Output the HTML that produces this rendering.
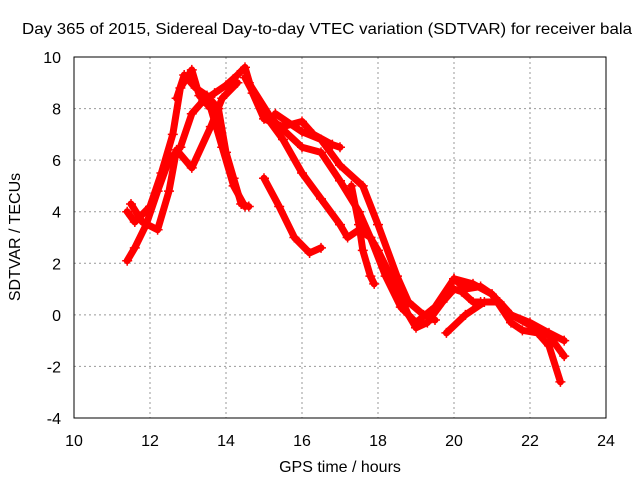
<!DOCTYPE html>
<html><head><meta charset="utf-8"><style>
body{margin:0;background:#fff}
svg text{font-family:"Liberation Sans",sans-serif;font-size:16px;fill:#000}
</style></head><body>
<svg id="chart" width="640" height="480" viewBox="0 0 640 480">
<rect width="640" height="480" fill="#fff"/>
<text x="22" y="34" textLength="610" lengthAdjust="spacingAndGlyphs">Day 365 of 2015, Sidereal Day-to-day VTEC variation (SDTVAR) for receiver bala</text>
<g id="grid"></g>
<g id="series"></g>
<rect x="74" y="57" width="532" height="361" fill="none" stroke="#000" stroke-width="1"/>
<g id="ticks"></g>
<text x="340" y="472" text-anchor="middle">GPS time / hours</text>
<text transform="translate(20,237) rotate(-90)" text-anchor="middle">SDTVAR / TECUs</text>
</svg>
<script>
const xTicks=[10,12,14,16,18,20,22,24];
const yTicks=[-4,-2,0,2,4,6,8,10];
const trackA=[[11.4,4.0],[11.6,3.6],[12.0,4.2],[12.3,5.5],[12.6,7.0],[12.8,8.8],[13.1,9.5],[13.3,8.5],[13.6,8.0],[13.9,6.5],[14.2,5.0],[14.5,4.2]];
const trackB=[[11.4,2.1],[11.6,2.6],[11.9,3.5],[12.2,4.8],[12.5,6.0],[12.8,6.5],[13.1,7.8],[13.4,8.3],[13.7,8.6],[14.0,8.9],[14.3,9.3],[14.5,9.6],[14.7,8.6],[15.0,7.6],[15.5,7.3],[16.0,7.5],[16.3,7.0],[16.8,6.6],[17.0,6.5]];
const trackC=[[11.5,4.3],[11.8,3.6],[12.2,3.3],[12.5,4.8],[12.7,6.4],[13.1,5.7],[13.6,7.3],[13.9,8.4],[14.3,9.0]];
const trackD=[[12.7,8.4],[12.9,9.3],[13.2,8.8],[13.5,8.5],[13.8,8.0],[14.0,6.3],[14.2,5.3],[14.4,4.3],[14.6,4.2]];
const trackE=[[15.0,5.3],[15.4,4.2],[15.8,3.0],[16.2,2.4],[16.5,2.6]];
const trackF=[[14.5,9.2],[15.0,7.8],[15.5,6.8],[16.0,5.5],[16.5,4.5],[17.0,3.5],[17.2,3.0],[17.5,3.3],[17.8,3.0],[18.0,2.5],[18.5,1.0],[18.8,0.0],[19.0,-0.5],[19.3,-0.3],[19.7,0.5],[20.0,1.0],[20.2,0.9],[20.5,0.5],[20.7,0.5]];
const trackG=[[14.6,9.0],[15.2,7.6],[16.0,6.5],[16.5,6.3],[17.0,5.2],[17.5,4.0],[17.8,3.0],[18.2,1.5],[18.6,0.3],[19.0,-0.3],[19.5,0.3],[20.0,1.4],[20.3,1.0],[20.7,1.1],[21.0,0.8],[21.5,-0.3],[21.8,-0.6],[22.2,-0.7],[22.5,-1.2],[22.8,-2.6]];
const trackH=[[15.3,7.8],[16.0,7.1],[16.5,6.8],[17.0,5.8],[17.6,5.0],[18.0,3.5],[18.5,1.5],[18.8,0.5],[19.2,0.0],[19.5,-0.2]];
const trackI=[[17.3,5.0],[17.5,3.5],[17.6,2.5],[17.8,1.5],[17.9,1.2]];
const trackJ=[[19.8,-0.7],[20.3,0.0],[20.8,0.5],[21.2,0.5],[21.5,0.0],[22.0,-0.3],[22.5,-0.7],[22.9,-1.0]];
const trackK=[[20.0,1.4],[20.5,1.2],[21.0,0.8],[21.5,0.0],[22.0,-0.4],[22.5,-0.8],[22.9,-1.6]];
const tracks=[trackA,trackB,trackC,trackD,trackE,trackF,trackG,trackH,trackI,trackJ,trackK];

const X0=74,X1=606,Y0=418,Y1=57;
function sx(h){return X0+(h-10)/(24-10)*(X1-X0);}
function sy(v){return Y0-(v+4)/(10+4)*(Y0-Y1);}
const NS='http://www.w3.org/2000/svg';
const grid=document.getElementById('grid'),ticks=document.getElementById('ticks'),ser=document.getElementById('series');
xTicks.forEach(t=>{
  const x=sx(t);
  if(t>10&&t<24){const l=document.createElementNS(NS,'line');
  l.setAttribute('x1',x);l.setAttribute('x2',x);l.setAttribute('y1',Y1);l.setAttribute('y2',Y0);
  l.setAttribute('stroke','#999');l.setAttribute('stroke-dasharray','2,3');
  
  
  grid.appendChild(l);}
  const tx=document.createElementNS(NS,'text');
  tx.setAttribute('x',x);tx.setAttribute('y',Y0+28);tx.setAttribute('text-anchor','middle');
  tx.textContent=t;
  
  
  ticks.appendChild(tx);
});
yTicks.forEach(t=>{
  const y=sy(t);
  if(t>-4&&t<10){const l=document.createElementNS(NS,'line');
  l.setAttribute('x1',X0);l.setAttribute('x2',X1);l.setAttribute('y1',y);l.setAttribute('y2',y);
  l.setAttribute('stroke','#999');l.setAttribute('stroke-dasharray','2,3');
  
  
  grid.appendChild(l);}
  const tx=document.createElementNS(NS,'text');
  tx.setAttribute('x',X0-13);tx.setAttribute('y',y+6);tx.setAttribute('text-anchor','end');
  tx.textContent=t;
  
  
  ticks.appendChild(tx);
});
tracks.forEach((tr,i)=>{
  const g=document.createElementNS(NS,'g');
  
  
  const p=document.createElementNS(NS,'polyline');
  p.setAttribute('points',tr.map(d=>sx(d[0])+','+sy(d[1])).join(' '));
  p.setAttribute('fill','none');p.setAttribute('stroke','#f00');p.setAttribute('stroke-width','7');
  p.setAttribute('stroke-linejoin','round');p.setAttribute('stroke-linecap','round');
  
  
  g.appendChild(p);
  let d='';
  tr.forEach(pt=>{const x=sx(pt[0]),y=sy(pt[1]);d+=`M${x-5},${y}H${x+5}M${x},${y-5}V${y+5}`;});
  const m=document.createElementNS(NS,'path');
  m.setAttribute('d',d);m.setAttribute('stroke','#f00');m.setAttribute('stroke-width','1.5');
  
  
  g.appendChild(m);
  ser.appendChild(g);
});
</script>
</body></html>
